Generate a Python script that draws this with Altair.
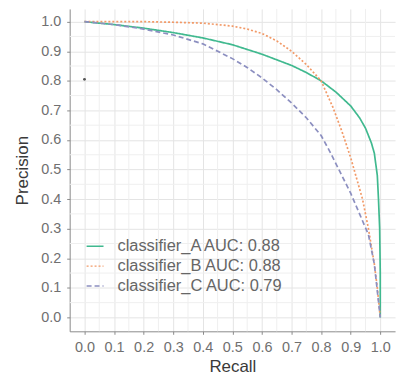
import altair as alt
import pandas as pd

recall_A = [0.0, 0.05, 0.1, 0.2, 0.3, 0.4, 0.5, 0.6, 0.7, 0.75, 0.8, 0.85, 0.9, 0.93, 0.95, 0.97, 0.98, 0.99, 0.994, 0.998, 1.0, 1.0]
prec_A = [1.0, 0.995, 0.99, 0.978, 0.963, 0.945, 0.922, 0.89, 0.852, 0.828, 0.80, 0.762, 0.715, 0.675, 0.64, 0.59, 0.555, 0.48, 0.40, 0.30, 0.15, 0.0]

recall_B = [0.0, 0.1, 0.2, 0.3, 0.4, 0.5, 0.55, 0.6, 0.65, 0.7, 0.75, 0.8, 0.84, 0.87, 0.9, 0.94, 0.96, 0.98, 0.99, 1.0]
prec_B = [1.0, 1.0, 1.0, 0.998, 0.995, 0.985, 0.975, 0.96, 0.935, 0.90, 0.855, 0.80, 0.71, 0.63, 0.54, 0.40, 0.30, 0.18, 0.10, 0.0]

recall_C = [0.0, 0.1, 0.2, 0.3, 0.4, 0.5, 0.55, 0.6, 0.65, 0.7, 0.75, 0.8, 0.83, 0.86, 0.9, 0.93, 0.96, 0.98, 1.0]
prec_C = [1.0, 0.99, 0.975, 0.955, 0.925, 0.875, 0.845, 0.81, 0.77, 0.725, 0.675, 0.615, 0.56, 0.50, 0.42, 0.35, 0.28, 0.18, 0.0]

labels = ["classifier_A AUC: 0.88", "classifier_B AUC: 0.88", "classifier_C AUC: 0.79"]
colors = ["#40b98f", "#f29a68", "#8c8fc0"]
dashes = [[1, 0], [2, 2], [5, 3]]

ticks = [0.0, 0.1, 0.2, 0.3, 0.4, 0.5, 0.6, 0.7, 0.8, 0.9, 1.0]
minor = [0.05, 0.15, 0.25, 0.35, 0.45, 0.55, 0.65, 0.75, 0.85, 0.95]

dot_x = [0.0]
dot_y = [0.805]

rows = []
for lab, rx, py in zip(labels, [recall_A, recall_B, recall_C], [prec_A, prec_B, prec_C]):
    for i, (r, p) in enumerate(zip(rx, py)):
        rows.append({"series": lab, "recall": r, "precision": p, "i": i})
df = pd.DataFrame(rows)

xs = alt.Scale(domain=[-0.05, 1.05], nice=False, zero=False)
ys = alt.Scale(domain=[-0.047, 1.043], nice=False, zero=False)

common = dict(values=ticks, format=".1f", labelFontSize=14.5, labelColor="#707070",
              titleFontSize=17, titleColor="#3a3a3a", titleFontWeight="normal",
              domainColor="#8a8a8a", tickColor="#8a8a8a", tickSize=3,
              gridColor="#e4e4e4",
              labelFont="Liberation Sans", titleFont="Liberation Sans")
xaxis = alt.Axis(labelPadding=6, titlePadding=5, **common)
yaxis = alt.Axis(labelPadding=6, titlePadding=9, **common)

leg = alt.Legend(title=None, orient="none", legendX=16, legendY=229,
                 symbolType="stroke", symbolSize=289, symbolStrokeWidth=1.4,
                 labelFontSize=16.5, labelColor="#666666", labelOffset=13,
                 rowPadding=2, padding=0, labelFont="Liberation Sans",
                 labelLimit=300)

grid_minor_df = pd.DataFrame({"v": minor})

vminor = alt.Chart(grid_minor_df).mark_rule(color="#efefef", strokeWidth=1).encode(
    x=alt.X("v:Q", scale=xs, axis=xaxis, title="Recall"))
hminor = alt.Chart(grid_minor_df).mark_rule(color="#efefef", strokeWidth=1).encode(
    y=alt.Y("v:Q", scale=ys, axis=yaxis, title="Precision"))

lines = alt.Chart(df).mark_line(strokeWidth=1.7).encode(
    x=alt.X("recall:Q", scale=xs, title="Recall", axis=xaxis),
    y=alt.Y("precision:Q", scale=ys, title="Precision", axis=yaxis),
    color=alt.Color("series:N", scale=alt.Scale(domain=labels, range=colors), legend=leg),
    strokeDash=alt.StrokeDash("series:N", scale=alt.Scale(domain=labels, range=dashes), legend=leg),
    order=alt.Order("i:Q"),
)

dot = alt.Chart(pd.DataFrame({"x": dot_x, "y": dot_y})).mark_circle(size=8, color="#555555", opacity=1).encode(
    x=alt.X("x:Q", scale=xs, axis=xaxis, title="Recall"),
    y=alt.Y("y:Q", scale=ys, axis=yaxis, title="Precision"))

chart = alt.layer(vminor, hminor, lines, dot).properties(
    width=327, height=324,
    autosize=alt.AutoSizeParams(type="none"),
    padding={"left": 62, "top": 0, "right": 10, "bottom": 47},
).configure_view(stroke=None)

chart.save("out.html", embed_options={"renderer": "svg", "actions": False})
